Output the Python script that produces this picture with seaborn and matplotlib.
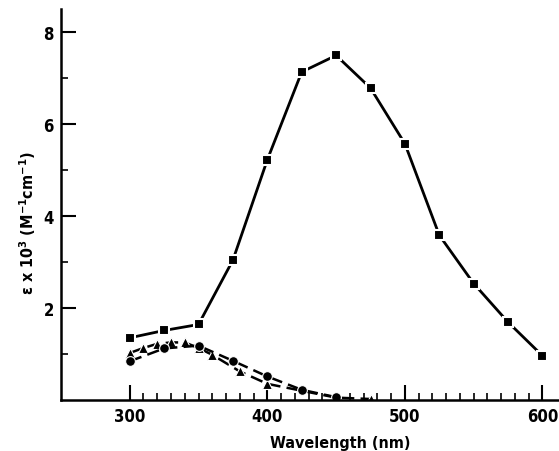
import numpy as np
import pandas as pd
import matplotlib
matplotlib.use("Agg")
import matplotlib.pyplot as plt
from matplotlib.ticker import FixedLocator
import seaborn as sns

# ============================================
# Donnees
# ============================================
wl_square = [300, 325, 350, 375, 400, 425, 450, 475, 500, 525, 550, 575, 600]
eps_square = [1.35, 1.51, 1.64, 3.04, 5.22, 7.13, 7.49, 6.78, 5.57, 3.58, 2.53, 1.69, 0.96]

wl_circle = [300, 325, 350, 375, 400, 425, 450]
eps_circle = [0.84, 1.12, 1.18, 0.85, 0.51, 0.22, 0.06]

wl_triangle = [300, 310, 320, 330, 340, 350, 360, 380, 400, 450, 475]
eps_triangle = [1.02, 1.13, 1.22, 1.25, 1.25, 1.13, 0.98, 0.62, 0.35, 0.05, 0.02]

x_major = [300, 400, 500, 600]
x_minor = [v for v in range(310, 600, 10) if v % 100 != 0]
y_major = [2, 4, 6, 8]
y_minor = [1, 3, 5, 7]

sns.set_style("ticks", {"xtick.direction": "in", "ytick.direction": "in",
                        "text.color": "black", "axes.labelcolor": "black",
                        "xtick.color": "black", "ytick.color": "black",
                        "axes.edgecolor": "black"})
plt.rcParams['font.family'] = ['DejaVu Sans']
plt.rcParams['font.stretch'] = 'condensed'
plt.rcParams['font.weight'] = 'bold'

fig = plt.figure(figsize=(5.59, 4.52), dpi=100)
ax = fig.add_axes([0.109, 0.113, 0.891, 0.865])

df_sq = pd.DataFrame({"wl": wl_square, "eps": eps_square})
df_ci = pd.DataFrame({"wl": wl_circle, "eps": eps_circle})
df_tr = pd.DataFrame({"wl": wl_triangle, "eps": eps_triangle})

sns.lineplot(data=df_tr, x="wl", y="eps", ax=ax, color="black", linewidth=1.8,
             marker="^", markersize=7, markeredgecolor="white", markeredgewidth=0.8,
             linestyle=(0, (5, 2.5)))
sns.lineplot(data=df_ci, x="wl", y="eps", ax=ax, color="black", linewidth=1.8,
             marker="o", markersize=7, markeredgecolor="white", markeredgewidth=0.8,
             linestyle=(0, (5, 2.5)))
sns.lineplot(data=df_sq, x="wl", y="eps", ax=ax, color="black", linewidth=2.0,
             marker="s", markersize=7, markeredgecolor="white", markeredgewidth=1.5)

ax.set_xlim(250, 612)
ax.set_ylim(0, 8.5)
ax.xaxis.set_major_locator(FixedLocator(x_major))
ax.xaxis.set_minor_locator(FixedLocator(x_minor))
ax.yaxis.set_major_locator(FixedLocator(y_major))
ax.yaxis.set_minor_locator(FixedLocator(y_minor))

ax.tick_params(which="major", direction="in", length=11, width=1.5,
               labelsize=12, pad=5, colors="black")
ax.tick_params(which="minor", direction="in", length=5, width=1.2, colors="black")

sns.despine(ax=ax)
for s in ["left", "bottom"]:
    ax.spines[s].set_linewidth(1.8)
    ax.spines[s].set_color("black")

ax.set_xlabel("Wavelength (nm)", fontsize=11.5, fontweight="bold")
ax.set_ylabel("ε x 10$^3$ (M$^{-1}$cm$^{-1}$)", fontsize=11.5, fontweight="bold")
ax.xaxis.set_label_coords(0.56, -0.09)
ax.yaxis.set_label_coords(-0.046, 0.455)

fig.savefig("out.png", dpi=100)
